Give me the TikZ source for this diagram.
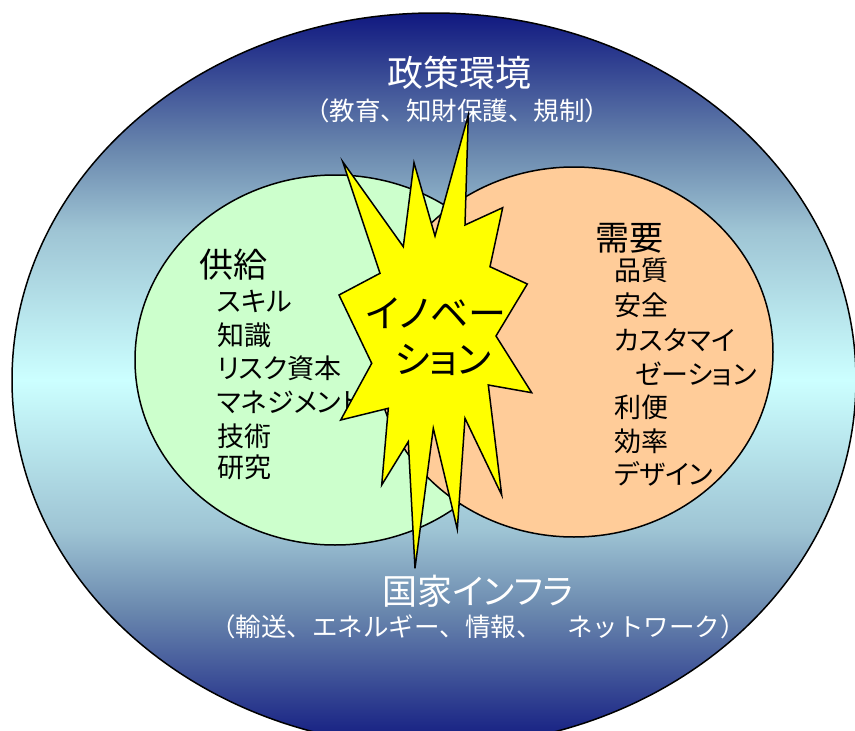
\documentclass[tikz,border=0pt]{standalone}
\usepackage{fontspec}
\setmainfont{Noto Sans CJK JP}[RawFeature=+palt]
\newfontfamily\jpfw{Noto Sans CJK JP}
\definecolor{navyc}{RGB}{16,24,128}
\definecolor{cyanc}{RGB}{204,255,255}
\definecolor{greenc}{RGB}{204,255,204}
\definecolor{orangec}{RGB}{255,204,153}
\definecolor{starc}{RGB}{255,255,0}
\pgfdeclareverticalshading{envshade}{100bp}{%
  color(0bp)=(navyc); color(25bp)=(navyc);
  color(34.33bp)=(rgb,255:red,106;green,136;blue,174);
  color(39.78bp)=(rgb,255:red,158;green,196;blue,212);
  color(50bp)=(cyanc);
  color(60.22bp)=(rgb,255:red,158;green,196;blue,212);
  color(65.67bp)=(rgb,255:red,106;green,136;blue,174);
  color(75bp)=(navyc); color(100bp)=(navyc)}
\begin{document}
\begin{tikzpicture}[x=1pt,y=-1pt,
  outl/.style={draw=black,line width=1.5pt},
  headbig/.style={text=white,inner sep=0pt,font=\fontsize{36}{40}\selectfont},
  headsub/.style={text=white,inner sep=0pt,font=\jpfw\fontsize{25.5}{29}\selectfont},
  title/.style={text=black,inner sep=0pt,anchor=west,font=\fontsize{34}{38}\selectfont},
  item/.style={text=black,inner sep=0pt,anchor=west,font=\fontsize{27}{30}\selectfont},
  inno/.style={text=black,inner sep=0pt,font=\fontsize{38}{42}\selectfont}]
\useasboundingbox (0,0) rectangle (855,731);
\clip (0,0) rectangle (855,731);
\fill[white] (0,0) rectangle (855,731);
% outer environment
\draw[outl,shading=envshade]
  (434,380) ellipse [x radius=422, y radius=367];
% supply and demand
\draw[outl,fill=greenc] (335,360) ellipse [x radius=200, y radius=185];
\draw[outl,fill=orangec] (574,352) ellipse [x radius=199, y radius=185];
% headings
\node[headbig] (pol) at (459,73) {政策環境};
\node[headsub] (polsub) at (457,111) {（教育、知財保護、規制）};
\node[headbig,font=\fontsize{35}{39}\selectfont] (inf) at (478,591) {国家インフラ};
\node[headsub] (infsub) at (478,627) {（輸送、エネルギー、情報、　ネットワーク）};
% supply list
\node[title] (sup) at (199,265) {供給};
\node[item] (s1) at (217,301) {スキル};
\node[item] (s2) at (217,335) {知識};
\node[item] (s3) at (217,368) {リスク資本};
\node[item] (s4) at (217,402) {マネジメント};
\node[item] (s5) at (217,436) {技術};
\node[item] (s6) at (217,467) {研究};
% demand list
\node[title] (dem) at (595,238) {需要};
\node[item] (d1) at (614,270) {品質};
\node[item] (d2) at (614,305) {安全};
\node[item] (d3) at (614,340) {カスタマイ};
\node[item] (d4) at (635,374) {ゼーション};
\node[item] (d5) at (614,407) {利便};
\node[item] (d6) at (614,441) {効率};
\node[item] (d7) at (614,474) {デザイン};
% innovation star
\draw[outl,fill=starc,line join=miter]
  (468.3,115) -- (465,225) -- (502.7,207.7) -- (490,266.7) -- (527.3,284)
  -- (496,336) -- (531.7,392.7) -- (488.3,385) -- (501.7,495) -- (465,418.3)
  -- (457.3,529.3) -- (433.3,428.3) -- (415,568.3) -- (408.3,441.7)
  -- (381.7,485) -- (388.3,408.3) -- (340.7,420) -- (371.7,363.3)
  -- (339,295) -- (380,273.3) -- (342.7,161.7) -- (403.3,246.7)
  -- (414,162.7) -- (435,236) -- cycle;
\node[inno] (in1) at (436,313) {イノベー};
\node[inno] (in2) at (443,360) {ション};
\end{tikzpicture}
\end{document}
